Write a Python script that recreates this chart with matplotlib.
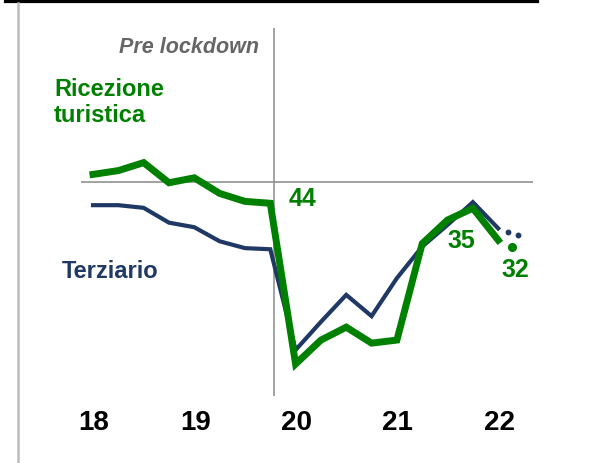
import matplotlib.pyplot as plt
from matplotlib.lines import Line2D

plt.rcParams['font.family'] = ['Liberation Sans', 'DejaVu Sans']

# quarterly data, 2018Q1 .. 2022Q1
quarters = [18.0, 18.25, 18.5, 18.75, 19.0, 19.25, 19.5, 19.75,
            20.0, 20.25, 20.5, 20.75, 21.0, 21.25, 21.5, 21.75, 22.0]
turismo = [52.0, 53.0, 55.1, 49.8, 51.1, 47.0, 44.9, 44.4,
           2.1, 8.4, 11.8, 7.6, 8.4, 33.8, 40.0, 43.1, 34.7]
terziario = [43.9, 43.9, 43.2, 39.3, 38.1, 34.4, 32.6, 32.3,
             5.8, 13.2, 20.3, 14.7, 24.7, 33.0, 38.7, 44.7, 37.8]
# latest monthly readings (dots)
turismo_last_x = [22.14]
turismo_last = [32.9]
terziario_last_x = [22.1, 22.2]
terziario_last = [36.9, 36.1]

years = [18, 19, 20, 21, 22]
year_labels = ['18', '19', '20', '21', '22']
lockdown = 19.79
soglia = 50

green = '#008000'
navy = '#1f3864'

fig = plt.figure(figsize=(6, 4.63), dpi=100)
ax = fig.add_axes([0, 0, 1, 1])
ax.axis('off')

# pixel mapping: x=18 -> 93px, 101.3 px/year ; y=50 -> 182px, 3.8 px/unit
ax.set_xlim(18 - 93 / 101.3, 18 + 507 / 101.3)
ax.set_ylim(50 - 281 / 3.8, 50 + 182 / 3.8)

# frame lines
fig.add_artist(Line2D([5 / 600, 537 / 600], [1 - 1.3 / 463] * 2, color='black', lw=2.3))
fig.add_artist(Line2D([18 / 600] * 2, [0, 1 - 3 / 463], color='#bdbdbd', lw=1.8))

ax.hlines(soglia, 17.88, 22.34, color='#9a9a9a', lw=1.3, zorder=1)
ax.vlines(lockdown, -6.3, 90.5, color='#8a8a8a', lw=1.1, zorder=1)

ax.plot(quarters, terziario, color=navy, lw=3.0, solid_joinstyle='miter', zorder=2)
ax.plot(quarters, turismo, color=green, lw=5.0, solid_joinstyle='miter', zorder=3)
ax.plot(terziario_last_x, terziario_last, 'o', color=navy, ms=3.2, zorder=2)
ax.plot(turismo_last_x, turismo_last, 'o', color=green, ms=5.5, zorder=3)

for yr, lab in zip(years, year_labels):
    ax.text(yr + 0.01, -13.4, lab, ha='center', va='center',
            fontsize=20, fontweight='bold', color='black')

ax.text(lockdown - 0.15, 85.4, 'Pre lockdown', ha='right', va='center',
        fontsize=15.5, fontstyle='italic', fontweight='bold', color='#666666')
ax.text(17.615, 77.5, 'Ricezione\nturistica', ha='left', va='top',
        fontsize=17, fontweight='bold', color=green, linespacing=1.2)
ax.text(17.69, 26.5, 'Terziario', ha='left', va='center',
        fontsize=17, fontweight='bold', color=navy)

ax.text(19.93, 45.4, '44', ha='left', va='center',
        fontsize=18, fontweight='bold', color=green)
ax.text(21.64, 34.4, '35', ha='center', va='center',
        fontsize=18, fontweight='bold', color=green)
ax.text(22.17, 26.8, '32', ha='center', va='center',
        fontsize=18, fontweight='bold', color=green)

fig.savefig('out.png', dpi=100)
